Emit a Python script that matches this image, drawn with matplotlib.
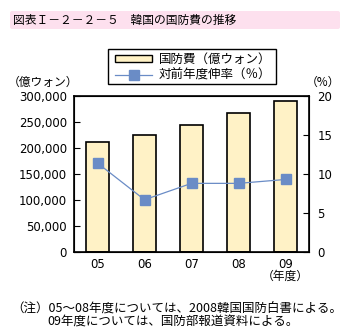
import numpy as np
import matplotlib
matplotlib.use('Agg')
import matplotlib.pyplot as plt
from matplotlib.patches import FancyBboxPatch, Rectangle
from matplotlib.lines import Line2D

plt.rcParams['font.family'] = ['Noto Sans CJK JP', 'DejaVu Sans']

years = ['05', '06', '07', '08', '09']
budget = [211026, 225129, 244972, 266490, 290500]
growth = [11.4, 6.7, 8.8, 8.8, 9.3]
labels = ['国防費（億ウォン）', '対前年度伸率（％）']

BAR_COLOR = '#FFF2C6'
LINE_COLOR = '#6A8CC6'
FS = 8.5
NUM = ['DejaVu Sans']

W, H = 351, 336
fig = plt.figure(figsize=(W / 100, H / 100), dpi=100)


def fx(px):
    return px / W


def fy(py):
    return 1 - py / H


# title band
band = FancyBboxPatch((fx(10), fy(29)), 330 / W, 18 / H,
                      boxstyle='round,pad=0,rounding_size=0.006',
                      transform=fig.transFigure, facecolor='#FDE0EE',
                      edgecolor='none')
fig.patches.append(band)
fig.text(fx(13), fy(20), '図表Ｉ－２－２－５　韓国の国防費の推移',
         fontsize=FS, va='center', ha='left')

ax = fig.add_axes([fx(74), fy(252), 235 / W, 156 / H])
x = np.arange(len(years))
ax.bar(x, budget, width=0.5, color=BAR_COLOR, edgecolor='black',
       linewidth=1.2)
ax.set_xlim(-0.5, len(years) - 0.5)
ax.set_ylim(0, 300000)
ax.set_yticks(np.arange(0, 300001, 50000))
ax.set_yticklabels([f'{v:,}' for v in range(0, 300001, 50000)], family=NUM)
ax.set_xticks(x)
ax.set_xticklabels(years, family=NUM)
ax.tick_params(axis='y', direction='in', length=4, labelsize=FS, pad=5)
ax.tick_params(axis='x', length=0, labelsize=FS, pad=4)
for s in ax.spines.values():
    s.set_linewidth(1.2)

ax2 = ax.twinx()
ax2.plot(x, growth, color=LINE_COLOR, linewidth=0.9, marker='s',
         markersize=7, markerfacecolor=LINE_COLOR, markeredgecolor=LINE_COLOR)
ax2.set_ylim(0, 20)
ax2.set_yticks([0, 5, 10, 15, 20])
ax2.set_yticklabels(['0', '5', '10', '15', '20'], family=NUM)
ax2.tick_params(axis='y', direction='in', length=4, labelsize=FS, pad=6)

# legend box
fig.patches.append(Rectangle((fx(108), fy(84)), 168 / W, 35 / H,
                             transform=fig.transFigure, facecolor='white',
                             edgecolor='black', linewidth=1.0))
fig.patches.append(Rectangle((fx(115), fy(62)), 37 / W, 7 / H,
                             transform=fig.transFigure, facecolor=BAR_COLOR,
                             edgecolor='black', linewidth=1.0))
fig.lines.append(Line2D([fx(115), fx(152)], [fy(75), fy(75)],
                        transform=fig.transFigure, color=LINE_COLOR,
                        linewidth=0.9))
fig.lines.append(Line2D([fx(133.5)], [fy(75)], transform=fig.transFigure,
                        marker='s', markersize=7, color=LINE_COLOR,
                        linestyle='none'))
fig.text(fx(159), fy(59), labels[0], fontsize=9, va='center', ha='left')
fig.text(fx(159), fy(75), labels[1], fontsize=9, va='center', ha='left')

fig.text(fx(8), fy(82), '（億ウォン）', fontsize=FS, va='center', ha='left')
fig.text(fx(323), fy(82), '（%）', fontsize=FS, va='center', ha='center')
fig.text(fx(285), fy(276), '（年度）', fontsize=FS, va='center', ha='center')

fig.text(fx(11), fy(308),
         '（注）05～08年度については、2008韓国国防白書による。',
         fontsize=9.0, va='center', ha='left')
fig.text(fx(47), fy(322),
         '09年度については、国防部報道資料による。',
         fontsize=9.0, va='center', ha='left')

fig.savefig('out.png', dpi=100)
